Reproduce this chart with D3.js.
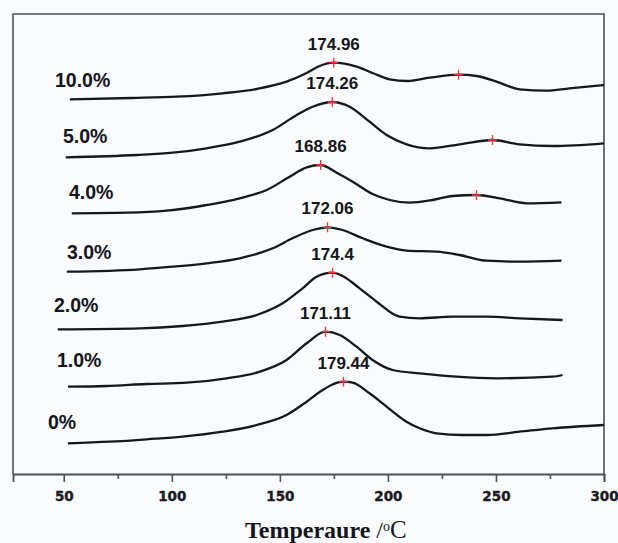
<!DOCTYPE html>
<html>
<head>
<meta charset="utf-8">
<script src="https://cdn.jsdelivr.net/npm/d3@7"></script>
<style>
  html, body { margin: 0; padding: 0; background: #f9fbfd; }
  svg { display: block; }
</style>
</head>
<body>
<div class="chart-container"></div>
<script>
//! DATA
const seriesNames = ['0%', '1.0%', '2.0%', '3.0%', '4.0%', '5.0%', '10.0%'];

// [temperature, heat flow (offset as plotted)]
const curve0 = [[51.9, 3.07], [71.3, 3.23], [88.4, 3.47], [105.0, 3.73], [123.5, 4.23], [139.3, 4.9], [153.1, 5.9], [162.4, 7.23], [168.4, 8.2], [179.44, 9.23], [183.7, 9.13], [191.5, 8.07], [199.4, 6.73], [208.6, 5.23], [214.7, 4.57], [222.5, 4.07], [234.6, 3.9], [245.7, 3.9], [260.9, 4.23], [276.2, 4.57], [300, 4.9]];
const curve1 = [[51.9, 8.73], [69.9, 8.8], [88.4, 9.0], [106.9, 9.13], [125.4, 9.57], [140.7, 10.23], [153.1, 11.4], [162.4, 13.07], [171.11, 14.23], [177.7, 13.9], [185.5, 12.73], [192.9, 11.4], [202.2, 10.4], [214.7, 10.07], [231.8, 9.73], [250.3, 9.57], [276.2, 9.73], [280.8, 9.9]];
const curve2 = [[47.2, 14.47], [85.2, 14.57], [105.0, 14.8], [123.5, 15.23], [139.3, 15.9], [151.3, 17.07], [160.5, 18.57], [167.0, 19.73], [174.4, 20.13], [179.0, 19.8], [186.9, 18.57], [194.8, 17.23], [205.4, 15.73], [214.7, 15.57], [229.9, 15.73], [245.7, 15.73], [260.9, 15.57], [280.8, 15.4]];
const curve3 = [[51.4, 20.23], [85.2, 20.47], [100.4, 20.73], [116.1, 21.07], [131.4, 21.57], [146.7, 22.57], [155.9, 23.57], [165.2, 24.4], [172.06, 24.67], [179.0, 24.4], [188.3, 23.57], [199.4, 22.73], [208.6, 22.33], [222.5, 22.23], [233.2, 21.9], [245.7, 21.33], [260.9, 21.23], [280.3, 21.33]];
const curve4 = [[53.7, 26.07], [79.1, 26.13], [97.6, 26.33], [116.1, 26.9], [131.4, 27.57], [143.9, 28.4], [154.5, 29.73], [162.4, 30.67], [168.86, 30.9], [176.3, 30.13], [183.7, 29.23], [192.9, 28.0], [200.8, 27.4], [210.0, 27.13], [220.7, 27.4], [229.9, 27.8], [241.0, 27.9], [251.7, 27.57], [264.2, 27.07], [280.3, 27.17]];
const curve5 = [[50.9, 31.67], [83.8, 31.9], [100.4, 32.13], [116.1, 32.57], [131.4, 33.23], [146.7, 34.4], [157.8, 35.9], [165.2, 36.73], [174.26, 37.2], [182.3, 36.73], [191.5, 35.23], [199.4, 33.9], [208.6, 32.97], [219.3, 32.57], [233.2, 32.97], [248.4, 33.4], [260.9, 32.97], [276.2, 32.8], [300, 33.07]];
const curve10 = [[52.8, 37.47], [81.5, 37.6], [102.3, 37.73], [123.5, 38.07], [139.3, 38.5], [153.1, 39.23], [162.4, 40.1], [168.4, 40.8], [174.96, 41.13], [185.5, 40.73], [192.9, 40.1], [200.8, 39.47], [209.1, 39.3], [219.3, 39.63], [232.7, 39.93], [241.0, 39.8], [250.3, 39.23], [260.9, 38.47], [273.4, 38.33], [284.0, 38.57], [300, 38.9]];
const curves = [curve0, curve1, curve2, curve3, curve4, curve5, curve10];

// labelled peak of every curve
const peakTemps = [179.44, 171.11, 174.4, 172.06, 168.86, 174.26, 174.96];
// second (unlabelled) peak marks: [series index, temperature]
const extraMarks = [[4, 241.0], [5, 248.4], [6, 232.7]];

const xMajorTicks = [50, 100, 150, 200, 250, 300];
const xMinorTicks = [75, 125, 175, 225, 275];

//! LAYOUT
const width = 618;
const height = 543;
const plot = { left: 13, right: 604, top: 14, bottom: 474 };
// series label placement (left x, middle y) in px
const labelPlace = [[48, 422], [57, 360], [54, 305], [67, 252], [69, 192], [63, 136], [55, 80]];

//! SVG
const svg = d3.select('.chart-container')
  .append('svg')
  .attr('width', width)
  .attr('height', height);

//! SCALES
const xScale = d3.scaleLinear().domain([26.5, 300]).range([plot.left, plot.right]);
const yScale = d3.scaleLinear().domain([0, 46]).range([plot.bottom, plot.top]);

// linear lookup of a curve value at temperature t
const valueAt = (curve, t) => {
  const i = d3.bisector(d => d[0]).left(curve, t);
  if (i <= 0) return curve[0][1];
  if (i >= curve.length) return curve[curve.length - 1][1];
  const a = curve[i - 1], b = curve[i];
  return a[1] + (b[1] - a[1]) * (t - a[0]) / (b[0] - a[0]);
};

//! FRAME
svg.append('path')
  .attr('d', `M${plot.left},${plot.bottom}V${plot.top}H${plot.right}V${plot.bottom}`)
  .attr('fill', 'none')
  .attr('stroke', '#4b5157')
  .attr('stroke-width', 1.6);

//! AXIS
const xAxis = d3.axisBottom(xScale)
  .tickValues(xMajorTicks)
  .tickSize(8)
  .tickPadding(9)
  .tickFormat(d3.format('d'));

const xAxisMinor = d3.axisBottom(xScale)
  .tickValues(xMinorTicks)
  .tickSize(5)
  .tickFormat('');

const gx = svg.append('g')
  .attr('transform', `translate(0,${plot.bottom})`)
  .call(xAxis);
svg.append('g')
  .attr('transform', `translate(0,${plot.bottom})`)
  .call(xAxisMinor)
  .call(g => g.select('.domain').remove());

svg.selectAll('.domain').attr('stroke', '#4b5157').attr('stroke-width', 1.8);
svg.selectAll('.tick line').attr('stroke', '#4b5157').attr('stroke-width', 1.6);
gx.selectAll('.tick text')
  .attr('fill', '#1c1c22')
  .attr('stroke', '#1c1c22')
  .attr('stroke-width', 0.4)
  .style('font-family', '"DejaVu Sans", sans-serif')
  .style('font-weight', 'bold')
  .style('font-size', '13.5px');

//! TITLE
const title = svg.append('text')
  .attr('x', 245)
  .attr('y', 538)
  .attr('fill', '#15151c')
  .style('font-family', '"Liberation Serif", "Times New Roman", serif')
  .style('font-size', '24px');
title.append('tspan').style('font-weight', 'bold').text('Temperaure');
title.append('tspan').text(' /');
title.append('tspan').attr('dy', -7).style('font-size', '14px').text('o');
title.append('tspan').attr('dy', 7).style('font-size', '25px').text('C');

//! CURVES
const line = d3.line()
  .x(d => xScale(d[0]))
  .y(d => yScale(d[1]))
  .curve(d3.curveMonotoneX);

svg.append('g')
  .selectAll('path')
  .data(curves)
  .enter()
  .append('path')
  .attr('d', line)
  .attr('fill', 'none')
  .attr('stroke', '#15181c')
  .attr('stroke-width', 2.3)
  .attr('stroke-linejoin', 'round');

//! PEAK MARKS
const marks = peakTemps.map((t, i) => [i, t]).concat(extraMarks);
svg.append('g')
  .selectAll('path')
  .data(marks)
  .enter()
  .append('path')
  .attr('d', d => {
    const cx = xScale(d[1]);
    const cy = yScale(valueAt(curves[d[0]], d[1]));
    return `M${cx - 4.5},${cy}H${cx + 4.5}M${cx},${cy - 5}V${cy + 5}`;
  })
  .attr('stroke', '#f0383c')
  .attr('stroke-width', 1.3);

//! PEAK LABELS
svg.append('g')
  .selectAll('text')
  .data(peakTemps)
  .enter()
  .append('text')
  .attr('x', d => xScale(d))
  .attr('y', (d, i) => yScale(valueAt(curves[i], d)) - 13)
  .attr('text-anchor', 'middle')
  .attr('fill', '#15151c')
  .style('font-family', '"Liberation Sans", Arial, sans-serif')
  .style('font-weight', 'bold')
  .style('font-size', '17px')
  .text(d => String(d));

//! SERIES LABELS
svg.append('g')
  .selectAll('text')
  .data(seriesNames)
  .enter()
  .append('text')
  .attr('x', (d, i) => labelPlace[i][0])
  .attr('y', (d, i) => labelPlace[i][1])
  .attr('dy', '0.36em')
  .attr('fill', '#15151c')
  .style('font-family', '"Liberation Sans", Arial, sans-serif')
  .style('font-weight', 'bold')
  .style('font-size', '19.5px')
  .text(d => d);
</script>
</body>
</html>
